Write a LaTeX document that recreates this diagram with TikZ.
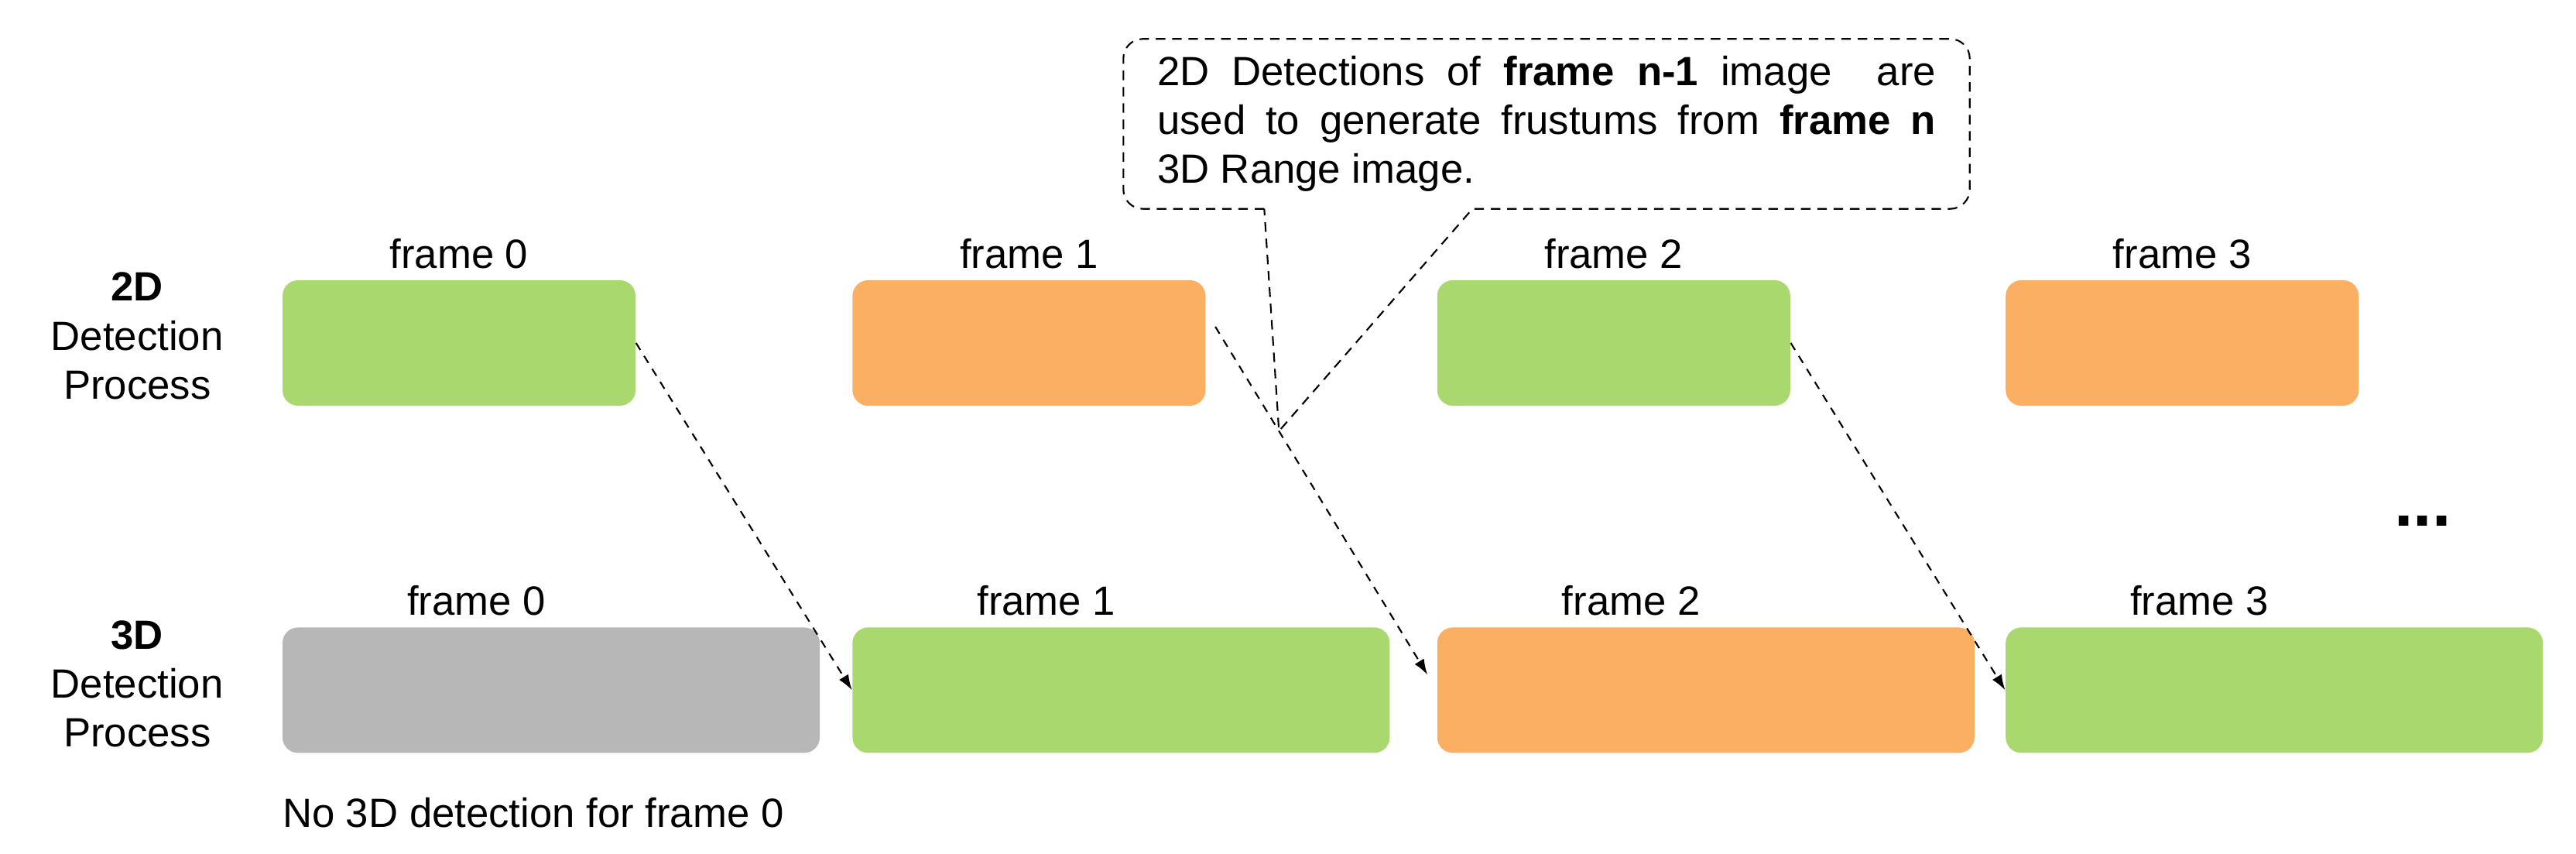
\documentclass[tikz,border=0pt]{standalone}
\usepackage{fontspec}
\setmainfont{Liberation Sans}
\usetikzlibrary{positioning,arrows.meta}
\definecolor{boxgreen}{HTML}{A9D86E}
\definecolor{boxorange}{HTML}{FBAF62}
\definecolor{boxgray}{HTML}{B7B7B7}

\begin{document}
\begin{tikzpicture}[
	font=\fontsize{15pt}{18pt}\selectfont,
	frame2d/.style={rounded corners=0.2cm,minimum width=4.56cm,minimum height=1.62cm,inner sep=0},
	frame3d/.style={frame2d,minimum width=6.94cm},
	lbl/.style={inner sep=0},
	rowlbl/.style={inner sep=0,align=center},
	flow/.style={-{Latex[length=2mm,width=1.4mm]},line width=0.6pt,dash pattern=on 3pt off 2.6pt},
	noteline/.style={line width=0.6pt,dash pattern=on 3.5pt off 2.5pt}
	]
	\useasboundingbox (0,0) rectangle (33.28,11.02);
	% 2D detection row
	\node[frame2d,fill=boxgreen] (top0) at (5.93,6.59) {};
	\node[frame2d,fill=boxorange,right=2.79cm of top0] (top1) {};
	\node[frame2d,fill=boxgreen,right=2.98cm of top1] (top2) {};
	\node[frame2d,fill=boxorange,right=2.77cm of top2] (top3) {};
	% 3D detection row
	\node[frame3d,fill=boxgray,below right=2.85cm and 0cm of top0.south west] (bot0) {};
	\node[frame3d,fill=boxgreen,below right=2.85cm and 0cm of top1.south west] (bot1) {};
	\node[frame3d,fill=boxorange,below right=2.85cm and 0cm of top2.south west] (bot2) {};
	\node[frame3d,fill=boxgreen,below right=2.85cm and 0cm of top3.south west] (bot3) {};
	% row names
	\node[rowlbl,left=0.75cm of top0,yshift=0.09cm] (name2d) {\textbf{2D}\\Detection\\Process};
	\node[rowlbl,left=0.75cm of bot0,yshift=0.08cm] (name3d) {\textbf{3D}\\Detection\\Process};
	% frame labels
	\node[lbl,above=0.14cm of top0] (t0) {frame 0};
	\node[lbl,above=0.14cm of top1] (t1) {frame 1};
	\node[lbl,above=0.14cm of top2] (t2) {frame 2};
	\node[lbl,above=0.14cm of top3] (t3) {frame 3};
	\node[lbl,above right=0.14cm and 1.61cm of bot0.north west] (b0) {frame 0};
	\node[lbl,above right=0.14cm and 1.61cm of bot1.north west] (b1) {frame 1};
	\node[lbl,above right=0.14cm and 1.61cm of bot2.north west] (b2) {frame 2};
	\node[lbl,above right=0.14cm and 1.61cm of bot3.north west] (b3) {frame 3};
	\node[lbl,below right=0.56cm and 0cm of bot0.south west] (noframe) {No 3D detection for frame 0};
	\node[lbl,anchor=base,font=\bfseries\fontsize{25pt}{30pt}\selectfont] (more) at (31.30,4.23) {...};
	% hand over
	\path[flow]
		(top0.east) edge (bot1.west)
		(top2.east) edge (bot3.west);
	\draw[flow] ([shift={(0.12,0.21)}]top1.east) -- coordinate[pos=0.3] (tip) ([shift={(-0.12,0.2)}]bot2.west);
	% callout
	\node[inner sep=0,minimum width=10.92cm,minimum height=2.18cm,text width=10.06cm,align=justify] (note) at (19.98,9.42)
		{2D Detections of \textbf{frame n-1} image\ \ are\linebreak used to generate frustums from \textbf{frame n}\linebreak 3D Range image.};
	\coordinate (pa) at ([xshift=1.82cm]note.south west);
	\coordinate (pb) at ([xshift=4.51cm]note.south west);
	\draw[noteline] (pa) [rounded corners=0.25cm] -- (note.south west) -- (note.north west) -- (note.north east) -- (note.south east) [sharp corners] -- (pb) -- (tip) -- (pa);
\end{tikzpicture}
\end{document}
